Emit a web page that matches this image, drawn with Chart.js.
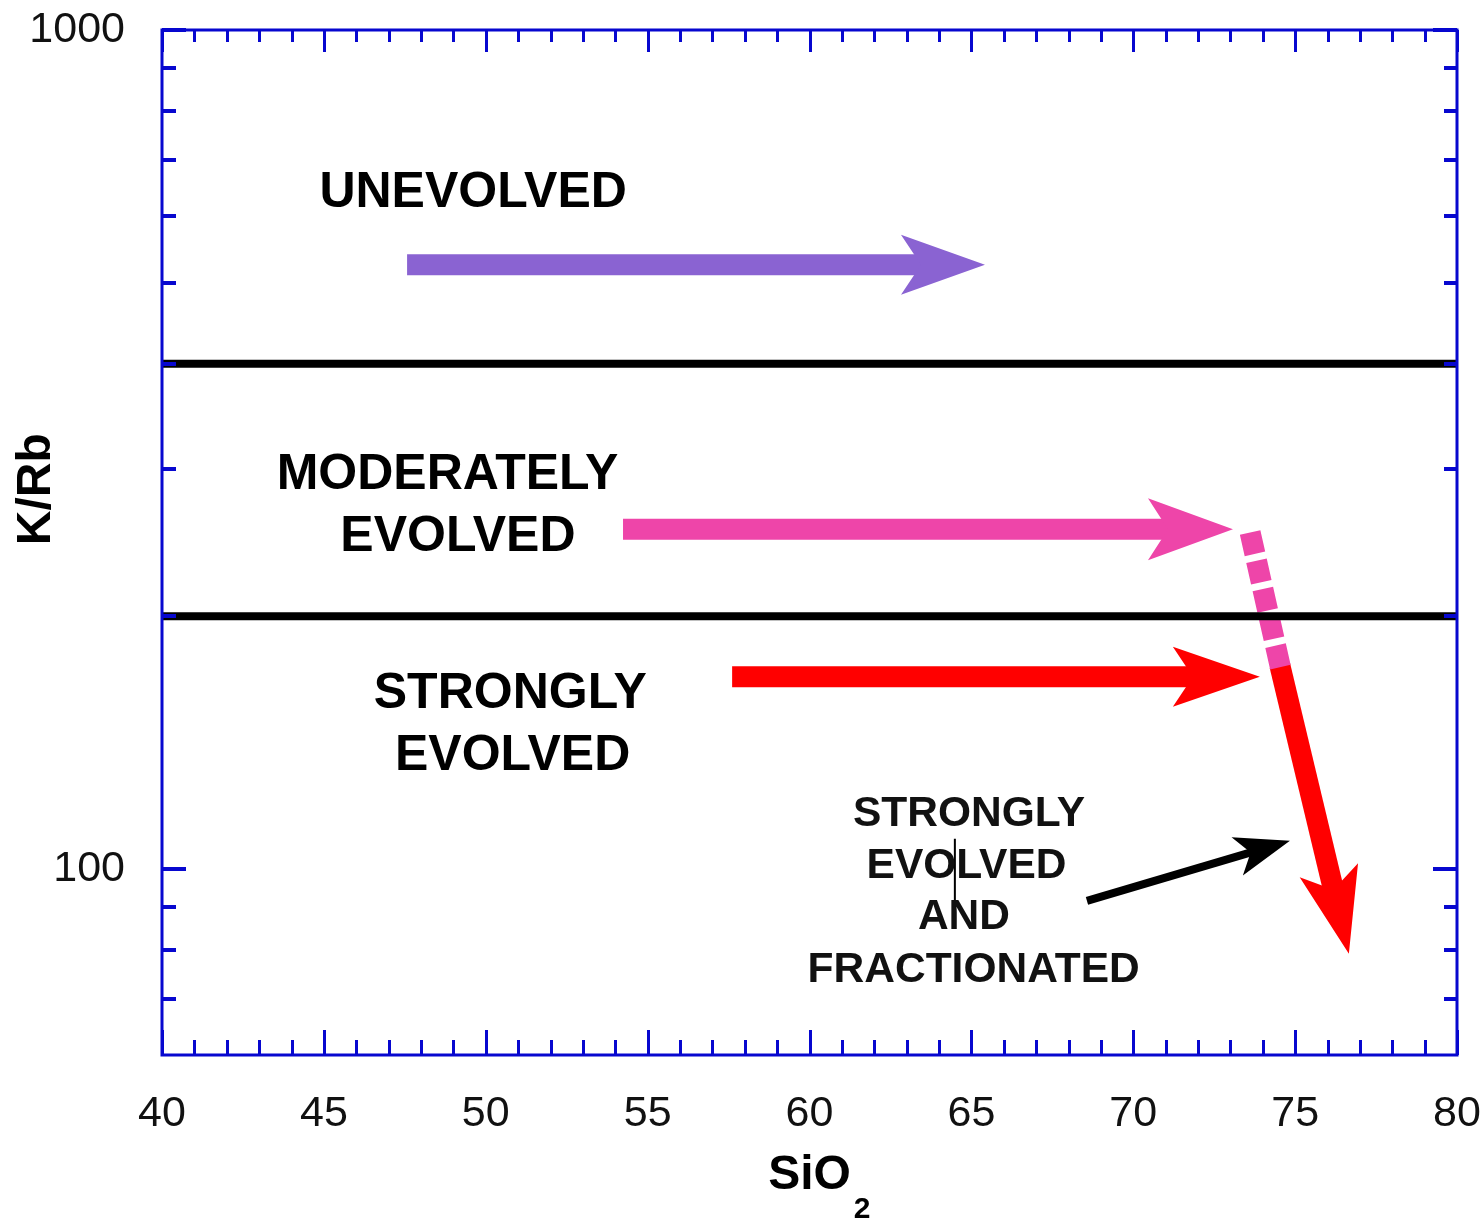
<!DOCTYPE html>
<html>
<head>
<meta charset="utf-8">
<script src="https://cdn.jsdelivr.net/npm/chart.js@4.4.0/dist/chart.umd.min.js"></script>
<style>
html,body{margin:0;padding:0;background:#ffffff;}
canvas{display:block;}
</style>
</head>
<body>
<canvas id="c" width="1481" height="1219"></canvas>
<script>
// ---------------- DATA ----------------
const xTickLabels = [40, 45, 50, 55, 60, 65, 70, 75, 80];
const xMinorTicks = [41,42,43,44,46,47,48,49,51,52,53,54,56,57,58,59,61,62,63,64,66,67,68,69,71,72,73,74,76,77,78,79];
const yTickLabels = [100, 1000];
const yMinorTicks = [70, 80, 90, 200, 300, 400, 500, 600, 700, 800, 900];

// K/Rb class boundaries
const boundaryValues = [400, 200];

// arrows: [start, tip]
const unevolvedX = [47.57, 65.42];
const unevolvedY = [525, 525];
const moderateX = [54.24, 73.08];
const moderateY = [254, 254];
const strongX = [57.61, 73.91];
const strongY = [169.5, 169.5];
const transitionX = [73.61, 74.59];   // dotted pink path
const transitionY = [251.8, 170.9];
const fractionX = [74.53, 76.66];
const fractionY = [174.7, 79.2];
const pointerX = [68.57, 74.84];
const pointerY = [91.6, 108.0];
const markX = [64.49, 64.49];
const markY = [108.6, 90.3];

// text labels
const regionLabels = ['UNEVOLVED', 'MODERATELY', 'EVOLVED', 'STRONGLY', 'EVOLVED'];
const regionLabelX = [49.61, 48.82, 49.14, 50.76, 50.83];
const regionLabelY = [639, 294.4, 248.3, 161.3, 136.4];
const noteLabels = ['STRONGLY', 'EVOLVED', 'AND', 'FRACTIONATED'];
const noteLabelX = [64.93, 64.85, 64.77, 65.07];
const noteLabelY = [116.3, 100.8, 87.6, 75.8];

const yTitle = 'K/Rb';
const xTitleMain = 'SiO';
const xTitleSub = '2';

// ---------------- STYLE ----------------
const FONT = "'Liberation Sans', Arial, Helvetica, sans-serif";
const AXIS_BLUE = '#0707cf';
const PURPLE = '#8a63d2';
const PINK = '#ee45a9';
const RED = '#ff0000';

Chart.defaults.font.family = FONT;

function pts(xs, ys) { return xs.map((x, i) => ({x: x, y: ys[i]})); }

function drawArrow(ctx, x0, y0, x1, y1, color, shaftW, L, W, notch) {
  const dx = x1 - x0, dy = y1 - y0, len = Math.hypot(dx, dy);
  const ux = dx / len, uy = dy / len, nx = -uy, ny = ux;
  const bx = x1 - ux * (L - notch), by = y1 - uy * (L - notch);
  ctx.save();
  ctx.strokeStyle = color; ctx.fillStyle = color;
  ctx.lineWidth = shaftW; ctx.lineCap = 'butt';
  ctx.beginPath(); ctx.moveTo(x0, y0); ctx.lineTo(bx + ux * 2, by + uy * 2); ctx.stroke();
  ctx.beginPath();
  ctx.moveTo(x1, y1);
  ctx.lineTo(x1 - ux * L + nx * W, y1 - uy * L + ny * W);
  ctx.lineTo(bx, by);
  ctx.lineTo(x1 - ux * L - nx * W, y1 - uy * L - ny * W);
  ctx.closePath(); ctx.fill();
  ctx.restore();
}

const arrowPlugin = {
  id: 'arrows',
  beforeDatasetsDraw(chart) {
    const {ctx, scales: {x, y}} = chart;
    const P = (xs, ys) => [x.getPixelForValue(xs[0]), y.getPixelForValue(ys[0]), x.getPixelForValue(xs[1]), y.getPixelForValue(ys[1])];
    let a;
    a = P(unevolvedX, unevolvedY); drawArrow(ctx, a[0], a[1], a[2], a[3], PURPLE, 21, 84, 30, 20);
    a = P(moderateX, moderateY); drawArrow(ctx, a[0], a[1], a[2], a[3], PINK, 21, 85, 31, 20);
    a = P(strongX, strongY); drawArrow(ctx, a[0], a[1], a[2], a[3], RED, 21, 87, 30, 20);
    a = P(fractionX, fractionY); drawArrow(ctx, a[0], a[1], a[2], a[3], RED, 21, 86, 30, 20);
    a = P(pointerX, pointerY); drawArrow(ctx, a[0], a[1], a[2], a[3], '#000000', 8, 55, 20, 14);
  }
};

const textPlugin = {
  id: 'texts',
  afterDatasetsDraw(chart) {
    const {ctx, chartArea: ar, scales: {x, y}} = chart;
    ctx.save();
    ctx.fillStyle = '#000000';
    ctx.textAlign = 'center'; ctx.textBaseline = 'middle';
    ctx.font = 'bold 50px ' + FONT;
    regionLabels.forEach((t, i) => ctx.fillText(t, x.getPixelForValue(regionLabelX[i]), y.getPixelForValue(regionLabelY[i])));
    ctx.font = 'bold 42.5px ' + FONT;
    ctx.fillStyle = '#111111';
    noteLabels.forEach((t, i) => ctx.fillText(t, x.getPixelForValue(noteLabelX[i]), y.getPixelForValue(noteLabelY[i])));
    // axis titles
    ctx.fillStyle = '#000000';
    ctx.save();
    ctx.translate(ar.left - 125, ar.top + (ar.bottom - ar.top) * 0.448);
    ctx.rotate(-Math.PI / 2);
    ctx.font = 'bold 48px ' + FONT;
    ctx.fillText(yTitle, 0, 0);
    ctx.restore();
    ctx.font = 'bold 48px ' + FONT;
    const cx = (ar.left + ar.right) / 2, cy = ar.bottom + 121;
    ctx.fillText(xTitleMain, cx, cy);
    const w = ctx.measureText(xTitleMain).width;
    ctx.font = 'bold 30px ' + FONT;
    ctx.textAlign = 'left';
    ctx.fillText(xTitleSub, cx + w / 2 + 3, cy + 34);
    ctx.restore();
  }
};

const framePlugin = {
  id: 'frame',
  afterDraw(chart) {
    const {ctx, chartArea: ar, scales: {x, y}} = chart;
    ctx.save();
    ctx.strokeStyle = AXIS_BLUE;
    ctx.lineCap = 'butt';
    const seg = (x0, y0, x1, y1) => { ctx.beginPath(); ctx.moveTo(x0, y0); ctx.lineTo(x1, y1); ctx.stroke(); };
    ctx.lineWidth = 3;
    xMinorTicks.forEach(v => {
      const px = Math.round(x.getPixelForValue(v)) + 0.5;
      seg(px, ar.top, px, ar.top + 12);
      seg(px, ar.bottom, px, ar.bottom - 15);
    });
    xTickLabels.forEach(v => {
      const px = Math.round(x.getPixelForValue(v)) + 0.5;
      seg(px, ar.top, px, ar.top + 22);
      seg(px, ar.bottom, px, ar.bottom - 25);
    });
    ctx.lineWidth = 4;
    yMinorTicks.forEach(v => {
      const py = Math.round(y.getPixelForValue(v));
      seg(ar.left, py, ar.left + 14, py);
      seg(ar.right, py, ar.right - 13, py);
    });
    yTickLabels.forEach(v => {
      const py = Math.round(y.getPixelForValue(v));
      seg(ar.left, py, ar.left + 24, py);
      seg(ar.right, py, ar.right - 24, py);
    });
    ctx.lineWidth = 3;
    ctx.strokeRect(ar.left, ar.top, ar.right - ar.left, ar.bottom - ar.top);
    ctx.restore();
  }
};

new Chart(document.getElementById('c').getContext('2d'), {
  type: 'scatter',
  data: {
    datasets: [
      { label: 'K/Rb = 400', data: pts([40, 80], [boundaryValues[0], boundaryValues[0]]), showLine: true, borderColor: '#000000', borderWidth: 8, pointRadius: 0 },
      { label: 'K/Rb = 200', data: pts([40, 80], [boundaryValues[1], boundaryValues[1]]), showLine: true, borderColor: '#000000', borderWidth: 8, pointRadius: 0 },
      { label: 'mark', data: pts(markX, markY), showLine: true, borderColor: '#000000', borderWidth: 2, pointRadius: 0 },
      { label: 'transition', data: pts(transitionX, transitionY), showLine: true, borderColor: PINK, borderWidth: 21, borderDash: [22, 7], borderCapStyle: 'butt', pointRadius: 0 }
    ]
  },
  options: {
    responsive: false,
    animation: false,
    devicePixelRatio: 1,
    layout: { padding: { top: 30, right: 24, left: 0, bottom: 0 } },
    plugins: { legend: { display: false }, tooltip: { enabled: false } },
    scales: {
      x: {
        type: 'linear', min: 40, max: 80, position: 'bottom',
        afterFit: s => { s.height = 164; s.paddingLeft = 0; s.paddingRight = 0; s.paddingTop = 0; s.paddingBottom = 0; },
        afterBuildTicks: s => { s.ticks = xTickLabels.map(v => ({value: v})); },
        grid: { display: false, drawTicks: false },
        border: { display: false },
        ticks: { font: { family: FONT, size: 43 }, color: '#111111', padding: 33, maxRotation: 0, autoSkip: false, callback: v => String(v) }
      },
      y: {
        type: 'logarithmic', min: 60, max: 1000, position: 'left',
        afterFit: s => { s.width = 162; s.paddingLeft = 0; s.paddingRight = 0; s.paddingTop = 0; s.paddingBottom = 0; },
        afterBuildTicks: s => { s.ticks = yTickLabels.map(v => ({value: v})); },
        grid: { display: false, drawTicks: false },
        border: { display: false },
        ticks: { font: { family: FONT, size: 43 }, color: '#111111', padding: 37, autoSkip: false, callback: v => String(v) }
      }
    }
  },
  plugins: [arrowPlugin, textPlugin, framePlugin]
});
</script>
</body>
</html>
